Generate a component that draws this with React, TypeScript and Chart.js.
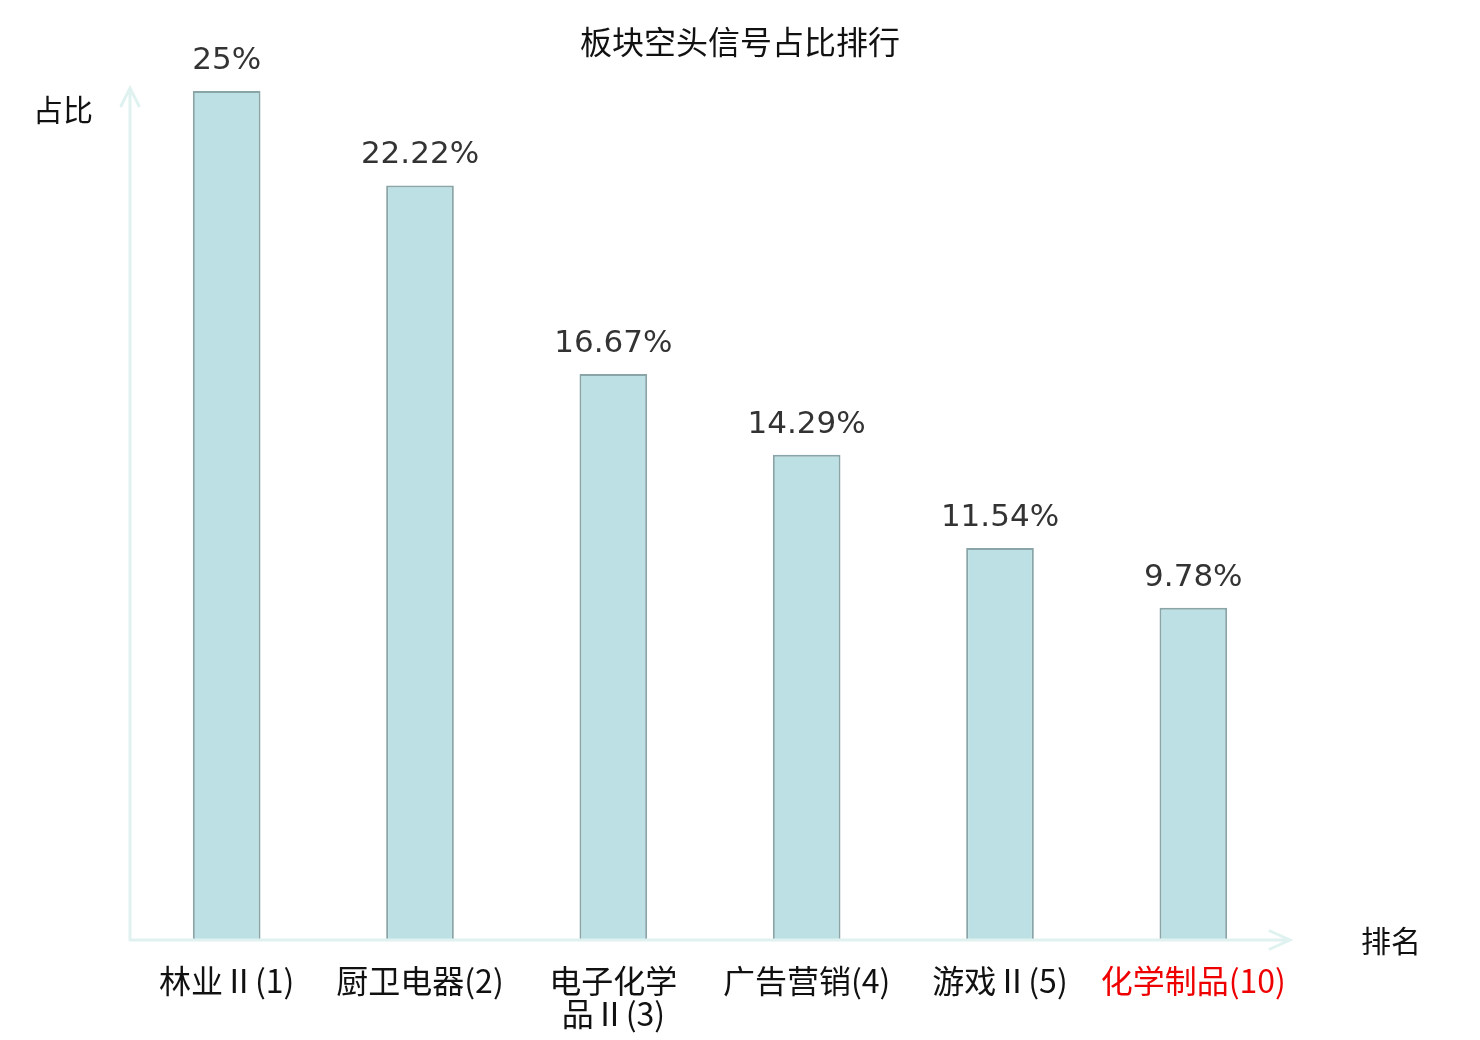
import { useEffect, useRef } from "react"
import { Chart, registerables } from "chart.js"

Chart.register(...registerables)

const categories: (string | string[])[] = [
  "林业Ⅱ(1)",
  "厨卫电器(2)",
  ["电子化学", "品Ⅱ(3)"],
  "广告营销(4)",
  "游戏Ⅱ(5)",
  "化学制品(10)",
]
const shortRatio = [25, 22.22, 16.67, 14.29, 11.54, 9.78]
const highlighted = [false, false, false, false, false, true]

const axisColor = "#dff2ef"
const cjkFont = "'Noto Sans CJK SC', 'DejaVu Sans', sans-serif"

// title, axes with arrow heads, axis names, value labels above the bars
const decorPlugin = {
  id: "decor",
  afterDatasetsDraw(chart: Chart) {
    const { ctx, chartArea } = chart
    const { left, right, top, bottom } = chartArea
    const tipX = right
    const tipY = top - 3
    ctx.save()
    ctx.strokeStyle = axisColor
    ctx.lineWidth = 3
    ctx.lineCap = "round"
    ctx.beginPath()
    ctx.moveTo(left, bottom)
    ctx.lineTo(tipX - 2, bottom)
    ctx.moveTo(tipX - 20, bottom - 9)
    ctx.lineTo(tipX, bottom)
    ctx.lineTo(tipX - 20, bottom + 9)
    ctx.moveTo(left, bottom)
    ctx.lineTo(left, tipY + 2)
    ctx.moveTo(left - 9, tipY + 18)
    ctx.lineTo(left, tipY)
    ctx.lineTo(left + 9, tipY + 18)
    ctx.stroke()

    ctx.fillStyle = "#111"
    ctx.textBaseline = "middle"
    ctx.textAlign = "center"
    ctx.font = `32px ${cjkFont}`
    ctx.fillText("板块空头信号占比排行", 740, 42)

    ctx.font = `30px ${cjkFont}`
    ctx.textAlign = "left"
    ctx.fillText("占比", 33, 110)
    ctx.fillText("排名", 1361, 941)

    const meta = chart.getDatasetMeta(0)
    ctx.fillStyle = "#333"
    ctx.font = "31px 'DejaVu Sans', sans-serif"
    ctx.textAlign = "center"
    meta.data.forEach((bar, i) => {
      ctx.fillText(`${shortRatio[i]}%`, bar.x, bar.y - 30)
    })
    ctx.restore()
  },
}

export default function App() {
  const canvasRef = useRef<HTMLCanvasElement>(null)
  const chartRef = useRef<Chart | null>(null)

  useEffect(() => {
    document.body.style.margin = "0"
    if (!canvasRef.current) return
    if (chartRef.current) chartRef.current.destroy()

    chartRef.current = new Chart(canvasRef.current, {
      type: "bar",
      data: {
        labels: categories,
        datasets: [
          {
            data: shortRatio,
            backgroundColor: "#bce0e3",
            borderColor: "#8aa5a7",
            borderWidth: 2,
            categoryPercentage: 1,
            barPercentage: 0.35,
          },
        ],
      },
      options: {
        animation: false,
        responsive: false,
        devicePixelRatio: 1,
        layout: { padding: { left: 130, right: 190, top: 91, bottom: 0 } },
        plugins: {
          legend: { display: false },
          tooltip: { enabled: false },
        },
        scales: {
          x: {
            grid: { display: false, drawTicks: false },
            border: { display: false },
            afterFit: (scale) => {
              scale.height = 100
            },
            ticks: {
              autoSkip: false,
              maxRotation: 0,
              minRotation: 0,
              padding: 24,
              font: { family: cjkFont, size: 32, lineHeight: 1.03 },
              color: (c) => (highlighted[c.index] ? "#ee0000" : "#111"),
            },
          },
          y: {
            display: false,
            min: 0,
            max: 25,
          },
        },
      },
      plugins: [decorPlugin],
    })

    return () => {
      if (chartRef.current) {
        chartRef.current.destroy()
        chartRef.current = null
      }
    }
  }, [])

  return (
    <div style={{ width: 1480, height: 1040, background: "#fff" }}>
      <canvas ref={canvasRef} width={1480} height={1040} />
    </div>
  )
}
